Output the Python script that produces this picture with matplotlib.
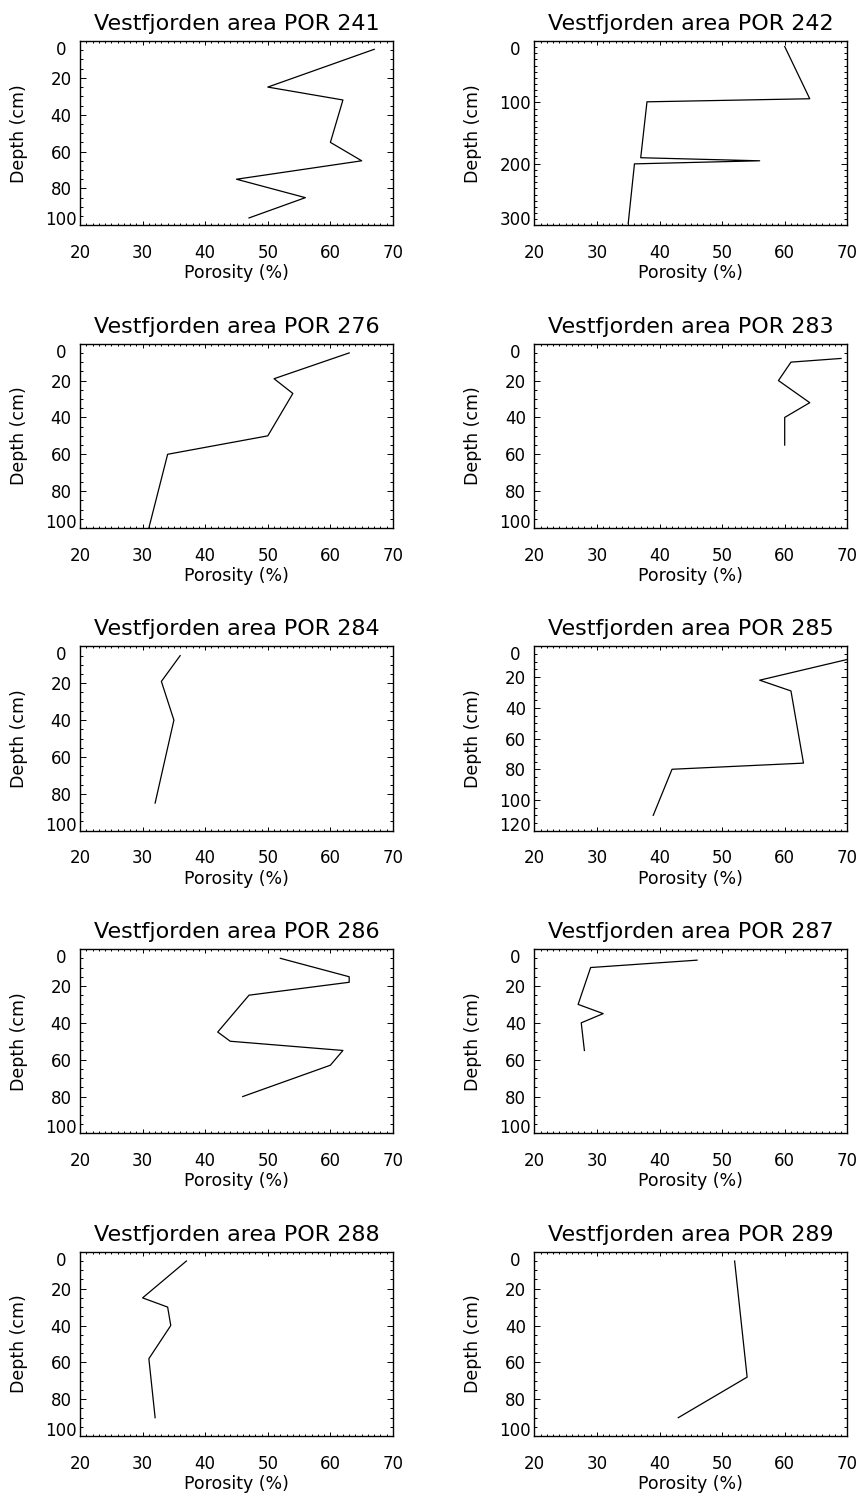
import matplotlib
matplotlib.use('Agg')
import matplotlib.pyplot as plt
import numpy as np

# porosity (%) and depth (cm)
stations = ['241', '242', '276', '283', '284', '285', '286', '287', '288', '289']

por241 = [67, 50, 62, 60, 65, 45, 56, 47]
dep241 = [4.5, 25, 32, 55, 65, 75, 85, 96]

por242 = [60, 64, 38, 37, 56, 36, 35]
dep242 = [9, 94, 99, 190, 195, 200, 297]

por276 = [63, 51, 54, 50, 34, 31]
dep276 = [5, 19, 27, 50, 60, 100]

por283 = [69, 61, 59, 64, 60, 60]
dep283 = [8, 10, 20, 32, 40, 55]

por284 = [36, 33, 35, 32]
dep284 = [5, 19, 40, 85]

por285 = [70, 56, 61, 63, 42, 39]
dep285 = [8.5, 22, 29, 76, 80, 110]

por286 = [52, 63, 63, 47, 42, 44, 62, 60, 46]
dep286 = [5, 15, 18, 25, 45, 50, 55, 63, 80]

por287 = [46, 29, 27, 31, 27.5, 28]
dep287 = [6, 10, 30, 35, 40, 55]

por288 = [37, 30, 34, 34.5, 31, 32]
dep288 = [5, 25, 30, 40, 58, 90]

por289 = [52, 54, 43]
dep289 = [5, 68, 90]

profiles = {
    '241': (por241, dep241), '242': (por242, dep242),
    '276': (por276, dep276), '283': (por283, dep283),
    '284': (por284, dep284), '285': (por285, dep285),
    '286': (por286, dep286), '287': (por287, dep287),
    '288': (por288, dep288), '289': (por289, dep289),
}

# depth axis range, major and minor step
depth_axis = {'242': (300, 100, 10), '285': (120, 20, 5)}

W, H = 859, 1501
fig = plt.figure(figsize=(W / 100, H / 100), dpi=100)

ax_w, ax_h = 313, 184.3
lefts = [80, 534.3]

for i, st in enumerate(stations):
    row, col = divmod(i, 2)
    top = 41 + 302.7 * row
    ax = fig.add_axes([lefts[col] / W, 1 - (top + ax_h) / H, ax_w / W, ax_h / H])

    x, y = profiles[st]
    ax.plot(x, y, color='black', linewidth=0.9)

    dmax, dstep, dminor = depth_axis.get(st, (100, 20, 5))
    ax.set_xlim(20, 70)
    ax.set_ylim(dmax, 0)

    ax.set_xticks(np.arange(20, 71, 10))
    ax.set_xticks(np.arange(20, 71, 1), minor=True)
    yt = np.arange(0, dmax + 1, dstep)
    ax.set_yticks(yt)
    ax.set_yticks(np.arange(0, dmax + 1, dminor), minor=True)
    labels = ax.set_yticklabels([str(v) for v in yt])
    for lab in labels:
        lab.set_ha('center')
    labels[0].set_va('top')
    labels[-1].set_va('baseline')

    ax.tick_params(axis='both', which='both', direction='in',
                   top=True, right=True, width=0.7, labelsize=12)
    ax.tick_params(axis='x', which='major', length=2.7, pad=13.5)
    ax.tick_params(axis='x', which='minor', length=1.3)
    ax.tick_params(axis='y', which='major', length=4.5, pad=13.7)
    ax.tick_params(axis='y', which='minor', length=2.2)
    for sp in ax.spines.values():
        sp.set_linewidth(1.0)

    ax.set_title('Vestfjorden area POR ' + st, fontsize=16, pad=8)
    ax.set_xlabel('Porosity (%)', fontsize=12.5)
    ax.set_ylabel('Depth (cm)', fontsize=12.5)
    ax.xaxis.set_label_coords(0.5, -0.212)
    ax.yaxis.set_label_coords(-0.166, 0.5)

fig.savefig('out.png', dpi=100)
